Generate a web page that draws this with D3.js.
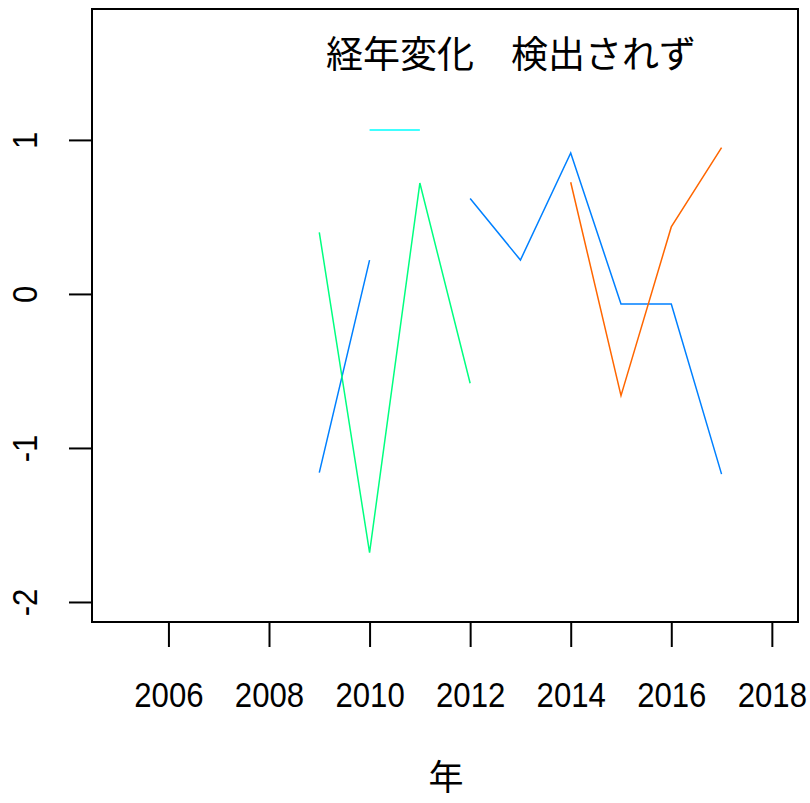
<!DOCTYPE html>
<html>
<head>
<meta charset="utf-8">
<script src="https://cdn.jsdelivr.net/npm/d3@7"></script>
<style>
  body { margin: 0; background: #fff; }
  svg { display: block; }
  text { font-family: "Liberation Sans", Arial, sans-serif; fill: #000; }
  .jp { font-family: "Noto Sans CJK JP", sans-serif; }
</style>
</head>
<body>
<svg></svg>
<script>
// data

var years = [2009, 2010, 2011, 2012, 2013, 2014, 2015, 2016, 2017];

var blueVals   = [-1.16, 0.22, null, 0.62, 0.22, 0.915, -0.065, -0.065, -1.17];
var greenVals  = [0.40, -1.68, 0.72, -0.58, null, null, null, null, null];
var orangeVals = [null, null, null, null, null, 0.725, -0.66, 0.435, 0.95];
var cyanVals   = [null, 1.065, 1.065, null, null, null, null, null, null];

var xTicks = [2006, 2008, 2010, 2012, 2014, 2016, 2018];
var yTicks = [-2, -1, 0, 1];

var title = "経年変化　検出されず";
var xLabel = "年";

var width = 810, height = 803;
var svg = d3.select("svg").attr("width", width).attr("height", height);

var x = d3.scaleLinear().domain([2004.48, 2018.52]).range([92, 798]);
var y = d3.scaleLinear().domain([-2.13, 1.85]).range([622, 9]);

var series = [
  {vals: blueVals,   color: "#0080FF"},
  {vals: greenVals,  color: "#00FF80"},
  {vals: orangeVals, color: "#FF6600"},
  {vals: cyanVals,   color: "#00FFFF"}
];

var line = d3.line()
    .defined(function(d) { return d.v != null; })
    .x(function(d) { return x(d.year); })
    .y(function(d) { return y(d.v); });

svg.append("g").selectAll("path")
  .data(series)
  .enter().append("path")
    .attr("fill", "none")
    .attr("stroke", function(d) { return d.color; })
    .attr("stroke-width", 1.5)
    .attr("d", function(d) {
      return line(years.map(function(yr, i) { return {year: yr, v: d.vals[i]}; }));
    });

// box
svg.append("rect")
    .attr("x", 92).attr("y", 9)
    .attr("width", 798 - 92).attr("height", 622 - 9)
    .attr("fill", "none").attr("stroke", "#000").attr("stroke-width", 2);

// x axis
var xAxis = svg.append("g")
    .attr("transform", "translate(0,622)")
    .call(d3.axisBottom(x).tickValues(xTicks).tickFormat(d3.format("d")).tickSize(25).tickPadding(35));
xAxis.select(".domain").remove();
xAxis.selectAll("line").attr("stroke", "#000").attr("stroke-width", 2);
xAxis.selectAll("text")
    .attr("font-size", 35)
    .attr("font-family", "Liberation Sans, Arial, sans-serif")
    .attr("fill", "#000")
    .attr("transform", "scale(0.89,1)");

// y axis
var yAxis = svg.append("g")
    .attr("transform", "translate(92,0)")
    .call(d3.axisLeft(y).tickValues(yTicks).tickSize(23).tickFormat(d3.format("d")));
yAxis.select(".domain").remove();
yAxis.selectAll("line").attr("stroke", "#000").attr("stroke-width", 2);
yAxis.selectAll("text")
    .attr("x", null).attr("dy", null)
    .attr("font-size", 35)
    .attr("font-family", "Liberation Sans, Arial, sans-serif")
    .attr("fill", "#000")
    .attr("text-anchor", "middle")
    .attr("transform", "translate(-92,0) rotate(-90) scale(0.89,1)")
    .attr("y", 37)
    .text(function(d) { return d < 0 ? "-" + Math.abs(d) : d; });

// title and x label
svg.append("text").attr("class", "jp")
    .attr("x", 511).attr("y", 68)
    .attr("text-anchor", "middle")
    .attr("font-size", 37)
    .text(title);

svg.append("text").attr("class", "jp")
    .attr("x", 446).attr("y", 790)
    .attr("text-anchor", "middle")
    .attr("font-size", 35)
    .text(xLabel);
</script>
</body>
</html>
